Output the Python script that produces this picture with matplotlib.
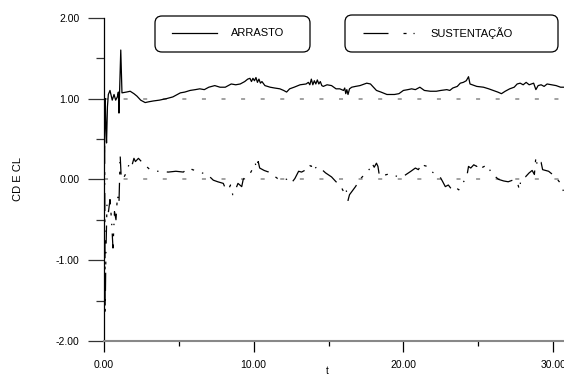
import matplotlib
matplotlib.use("Agg")
import matplotlib.pyplot as plt
from matplotlib.patches import FancyBboxPatch
from matplotlib.lines import Line2D
from matplotlib.transforms import Affine2D

plt.rcParams['font.family'] = ['Liberation Sans', 'DejaVu Sans']
plt.rcParams['lines.scale_dashes'] = False

# ---- data ----
# drag coefficient (ARRASTO)
t_cd = [0.0, 0.08, 0.12, 0.17, 0.23, 0.29, 0.4, 0.55, 0.67, 0.78, 0.89, 0.96,
        1.0, 1.12, 1.2, 1.5, 1.75, 2.0, 2.2, 2.45, 2.75, 3.0, 3.3, 3.7, 4.2,
        4.6, 5.1, 5.4, 5.75, 6.1, 6.4, 6.7, 7.0, 7.4, 7.75, 8.1, 8.3, 8.5,
        8.8, 9.1, 9.4, 9.6, 9.75, 9.85, 9.95, 10.05, 10.15, 10.25, 10.35,
        10.45, 10.55, 10.75, 11.1, 11.4, 11.75, 12.0, 12.2, 12.4, 12.7, 13.1,
        13.5, 13.65, 13.75, 13.85, 13.95, 14.05, 14.15, 14.25, 14.35, 14.45,
        14.55, 14.65, 14.9, 15.2, 15.5, 15.75, 16.0, 16.08, 16.15, 16.22,
        16.3, 16.4, 16.55, 16.8, 17.1, 17.55, 17.8, 18.0, 18.2, 18.5, 18.9,
        19.4, 19.7, 20.0, 20.3, 20.55, 20.8, 21.1, 21.4, 21.8, 22.2, 22.5,
        22.9, 23.1, 23.3, 23.6, 23.8, 24.0, 24.2, 24.35, 24.45, 24.9, 25.35,
        25.7, 26.0, 26.3, 26.55, 26.8, 27.1, 27.4, 27.6, 27.8, 28.0, 28.2,
        28.4, 28.7, 28.85, 29.0, 29.2, 29.4, 29.6, 29.9, 30.2, 30.5, 30.8]
cd = [0.0, 1.0, 0.7, 0.45, 0.9, 1.05, 1.1, 0.98, 1.05, 0.98, 1.02, 1.08,
      0.82, 1.6, 1.07, 1.08, 1.09, 1.06, 1.03, 0.98, 0.95, 0.96, 0.97, 0.98, 1.0,
      1.02, 1.07, 1.08, 1.10, 1.11, 1.12, 1.11, 1.14, 1.16, 1.14, 1.14, 1.16, 1.18,
      1.17, 1.18, 1.21, 1.24, 1.25, 1.21, 1.25, 1.22, 1.26, 1.20, 1.24,
      1.19, 1.21, 1.16, 1.14, 1.13, 1.12, 1.10, 1.08, 1.12, 1.14, 1.17,
      1.18, 1.20, 1.17, 1.24, 1.17, 1.22, 1.18, 1.23, 1.18, 1.21,
      1.16, 1.15, 1.17, 1.16, 1.12, 1.12, 1.10, 1.13, 1.06, 1.11,
      1.05, 1.12, 1.14, 1.15, 1.16, 1.19, 1.18, 1.14, 1.10, 1.08, 1.05,
      1.05, 1.06, 1.10, 1.11, 1.12, 1.11, 1.14, 1.10, 1.09, 1.09, 1.10,
      1.11, 1.10, 1.13, 1.15, 1.19, 1.20, 1.22, 1.27, 1.18, 1.15, 1.14,
      1.12, 1.10, 1.08, 1.06, 1.09, 1.12, 1.14, 1.18, 1.19, 1.17, 1.20,
      1.17, 1.19, 1.11, 1.16, 1.17, 1.15, 1.18, 1.17, 1.16, 1.14, 1.14]

# lift coefficient (SUSTENTACAO)
t_cl = [0.0, 0.04, 0.08, 0.12, 0.2, 0.3, 0.4, 0.5, 0.6, 0.7, 0.8, 0.9, 1.0,
        1.08, 1.15, 1.25, 1.4, 1.55, 1.7, 1.85, 2.0, 2.1, 2.3, 2.6, 3.07, 3.6,
        4.3, 4.8, 5.3, 5.5, 5.75, 5.9, 6.1, 6.5, 6.85, 7.3, 7.6, 7.97, 8.1,
        8.3, 8.45, 8.6, 8.8, 8.95, 9.2, 9.3, 9.5, 9.75, 9.9, 10.1, 10.2, 10.3,
        10.4, 10.7, 11.0, 11.3, 11.6, 11.9, 12.2, 12.5, 12.75, 13.0, 13.2,
        13.5, 13.67, 13.85, 14.0, 14.1, 14.3, 14.5, 14.8, 15.2, 15.5, 15.8,
        16.0, 16.15, 16.3, 16.4, 16.6, 16.8, 17.0, 17.2, 17.5, 17.8, 17.9,
        18.05, 18.2, 18.3, 18.4, 18.7, 19.1, 19.4, 19.65, 20.1, 20.5, 20.8,
        21.0, 21.25, 21.4, 21.6, 21.85, 22.1, 22.45, 22.6, 22.8, 23.0, 23.25,
        23.5, 23.7, 23.9, 24.1, 24.25, 24.35, 24.5, 24.7, 24.9, 25.1, 25.3,
        25.6, 25.9, 26.1, 26.35, 26.7, 27.0, 27.3, 27.6, 27.75, 27.85, 28.15,
        28.4, 28.6, 28.75, 28.85, 28.95, 29.0, 29.2, 29.3, 29.5, 29.7, 29.9,
        30.2, 30.5, 30.7]
cl = [0.0, 0.5, -1.65, -1.0, -0.3, -0.4, -0.25, -0.5, -0.85, -0.4, -0.5, -0.2, -0.3,
      0.3, 0.02, 0.0, 0.05, 0.12, 0.2, 0.16, 0.26, 0.22, 0.26, 0.2, 0.12, 0.1,
      0.09, 0.1, 0.09, 0.12, 0.14, 0.12, 0.11, 0.08, 0.07, -0.01, -0.03, -0.05, -0.11,
      -0.13, -0.07, -0.19, -0.12, -0.05, -0.09, 0.0, 0.04, 0.07, 0.12, 0.2, 0.14, 0.22,
      0.14, 0.11, 0.09, 0.05, 0.01, 0.02, 0.0, -0.05, 0.01, 0.1, 0.09,
      0.12, 0.18, 0.16, 0.2, 0.14, 0.16, 0.13, 0.08, 0.03, -0.03, -0.08,
      -0.15, -0.1, -0.26, -0.19, -0.14, -0.09, -0.03, 0.02, 0.08, 0.14, 0.2,
      0.15, 0.2, 0.16, 0.04, 0.05, 0.07, 0.05, 0.03, 0.05, 0.1, 0.14,
      0.12, 0.2, 0.17, 0.16, 0.1, 0.07, 0.03, -0.02, -0.09, -0.07, -0.13,
      -0.1, -0.13, -0.06, -0.01, 0.05, 0.16, 0.14, 0.18, 0.16, 0.2, 0.15,
      0.18, 0.07, 0.04, 0.0, -0.02, -0.03, -0.01, -0.03, -0.13, 0.0, 0.03,
      0.08, 0.11, 0.06, 0.28, 0.16, 0.18, 0.21, 0.12, 0.11, 0.1, 0.07,
      0.02, -0.05, -0.15]

ref_levels = [0.0, 1.0]
x_major = [0, 10, 20, 30]
x_minor = [5, 15, 25]
y_major = [-2, -1, 0, 1, 2]
y_minor = [-1.5, -0.5, 0.5, 1.5]
labels = ["ARRASTO", "SUSTENTAÇÃO"]

W, H = 564, 376
fig = plt.figure(figsize=(W / 100, H / 100), dpi=100)
ax = fig.add_axes([104 / W, (H - 341) / H, (W - 104) / W, (341 - 17.7) / H])

cl_dash = (13, 6, 2, 6, 1, 6)

for lv in ref_levels:
    ax.axhline(lv, color='#888888', lw=1.1, dashes=(2.9, 11.2), zorder=1)
ax.plot(t_cd, cd, color='black', lw=0.9, zorder=3)
ax.plot(t_cl, cl, color='black', lw=0.9, dashes=cl_dash, zorder=3)

ax.set_xlim(0, (W - 104) / 14.97)
ax.set_ylim(-2, 2)
ax.set_xticks(x_major)
ax.set_xticklabels(["%.2f" % v for v in x_major])
ax.set_xticks(x_minor, minor=True)
ax.set_yticks(y_major)
ax.set_yticklabels(["%.2f" % v for v in y_major])
ax.set_yticks(y_minor, minor=True)

ax.spines['top'].set_visible(False)
ax.spines['right'].set_visible(False)
ax.spines['left'].set_color('black')
ax.spines['left'].set_linewidth(0.9)
ax.spines['bottom'].set_color('#888888')
ax.spines['bottom'].set_linewidth(1.5)
ax.tick_params(axis='y', which='major', length=11.5, width=0.9, pad=6,
               labelsize=7.5, color='#333333')
ax.tick_params(axis='y', which='minor', length=5.8, width=0.9, color='#333333')
ax.tick_params(axis='x', which='major', length=8, width=0.9, pad=6, labelsize=7.5)
ax.tick_params(axis='x', which='minor', length=3.5, width=0.9)

fig.text(18 / W, 1 - 179 / H, "CD E CL", rotation=90, ha='center', va='center',
         fontsize=8)
fig.text(327 / W, 1 - 366 / H, "t", ha='center', va='top', fontsize=7)

# legend boxes, drawn in pixel units (origin top-left)
px = Affine2D().scale(1 / W, -1 / H).translate(0, 1) + fig.transFigure
boxes = [(155, 16, 155, 36), (345, 15, 213, 37)]
for (x0, y0, w, h) in boxes:
    fig.patches.append(FancyBboxPatch((x0, y0), w, h,
                                      boxstyle="round,pad=0,rounding_size=7",
                                      fc='white', ec='black', lw=0.9,
                                      transform=px))
fig.lines.append(Line2D([172, 217], [33, 33], color='black', lw=0.9, transform=px))
fig.text(231 / W, 1 - 33.5 / H, labels[0], ha='left', va='center', fontsize=8)
fig.lines.append(Line2D([363, 415], [33, 33], color='black', lw=0.9,
                        dashes=(18, 10.8, 2.2, 5, 0.8, 20), transform=px))
fig.text(430 / W, 1 - 33.5 / H, labels[1], ha='left', va='center', fontsize=8)

fig.savefig("out.png", dpi=100)
